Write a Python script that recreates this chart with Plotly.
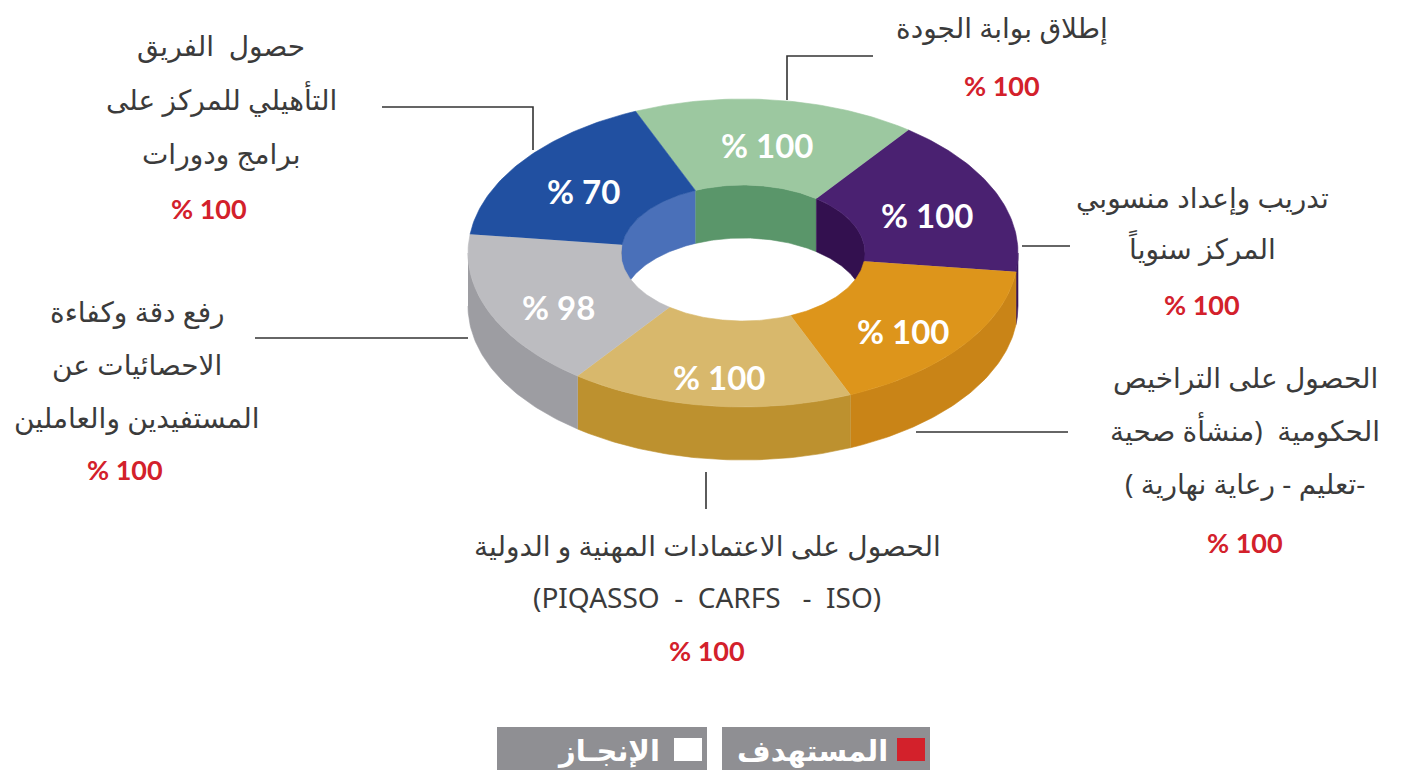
import numpy as np
import plotly.graph_objects as go

# ---- data -----------------------------------------------------------------
# goals, listed clockwise from the top of the ring
goal_titles = [
    ["إطلاق بوابة الجودة"],
    ["تدريب وإعداد منسوبي", "المركز سنوياً"],
    ["الحصول على التراخيص", "الحكومية  (منشأة صحية", "-تعليم - رعاية نهارية )"],
    ["الحصول على الاعتمادات المهنية و الدولية", "(PIQASSO  -  CARFS   -  ISO)"],
    ["رفع دقة وكفاءة", "الاحصائيات عن", "المستفيدين والعاملين"],
    ["حصول  الفريق", "التأهيلي للمركز على", "برامج ودورات"],
]
target_pct = [100, 100, 100, 100, 100, 100]
achieved_pct = [100, 100, 100, 100, 98, 70]
legend_names = ["المستهدف", "الإنجـاز"]

# ---- style ----------------------------------------------------------------
top_colors = ["#9cc8a0", "#4a2171", "#dd951b", "#d8b86c", "#bcbcc0", "#2150a1"]
outer_wall_colors = ["#7fae84", "#38165b", "#c98417", "#bd912f", "#9d9da2", "#1b3f85"]
inner_wall_colors = ["#5a966a", "#33104f", "#b7780f", "#b08a3c", "#8f8f94", "#4a70b9"]
TEXT = "#3b3b3b"
RED = "#d3212b"
ARABIC_FONT = "Noto Sans, DejaVu Sans, sans-serif"
NUM_FONT = "Lato, Open Sans, sans-serif"

W, H = 1403, 771
CX, CY = 743, 253          # centre of the ring's top face
RX_OUT, RY_OUT = 275, 154  # outer ellipse
RX_IN, RY_IN = 122, 68     # hole
DEPTH = 53                 # thickness of the ring
START = 113                # angle of the first slice edge (degrees)

RLM = "\u200f"


def arc(rx, ry, a0, a1, dy=0.0, n=60):
    t = np.radians(np.linspace(a0, a1, n))
    return CX + rx * np.cos(t), CY - ry * np.sin(t) + dy


def clip(lo, hi, vlo, vhi):
    """Parts of [lo, hi] that fall inside [vlo, vhi] (mod 360)."""
    out = []
    for k in (-2, -1, 0, 1):
        a, b = max(lo, vlo + 360 * k), min(hi, vhi + 360 * k)
        if b - a > 1e-6:
            out.append((a, b))
    return out


def poly_trace(xs, ys, color):
    return go.Scatter(
        x=xs, y=ys, mode="lines", fill="toself", fillcolor=color,
        line=dict(color=color, width=0.6), hoverinfo="skip", showlegend=False,
    )


n = len(achieved_pct)
span = 360.0 / n
edges = [(START - (i + 1) * span, START - i * span) for i in range(n)]

fig = go.Figure()

# outer side wall (front half of the ring)
for i, (lo, hi) in enumerate(edges):
    for a, b in clip(lo, hi, -180, 0):
        x1, y1 = arc(RX_OUT, RY_OUT, a, b)
        x2, y2 = arc(RX_OUT, RY_OUT, b, a, dy=DEPTH)
        fig.add_trace(poly_trace(np.r_[x1, x2], np.r_[y1, y2], outer_wall_colors[i]))

# inner wall seen through the hole (back half)
for i, (lo, hi) in enumerate(edges):
    for a, b in clip(lo, hi, 0, 180):
        x1, y1 = arc(RX_IN, RY_IN, a, b)
        x2, y2 = arc(RX_IN, RY_IN, b, a, dy=DEPTH)
        fig.add_trace(poly_trace(np.r_[x1, x2], np.r_[y1, y2], inner_wall_colors[i]))

# top face of every slice
for i, (lo, hi) in enumerate(edges):
    x1, y1 = arc(RX_OUT, RY_OUT, hi, lo)
    x2, y2 = arc(RX_IN, RY_IN, lo, hi)
    fig.add_trace(poly_trace(np.r_[x1, x2], np.r_[y1, y2], top_colors[i]))

annotations = []

# achieved value on each slice
for i, (lo, hi) in enumerate(edges):
    mid = np.radians((lo + hi) / 2)
    annotations.append(dict(
        x=CX + 200 * np.cos(mid), y=CY + 8 - 117 * np.sin(mid),
        text=f"<b>% {achieved_pct[i]}</b>", showarrow=False,
        font=dict(family=NUM_FONT, size=33, color="white"),
        xanchor="center", yanchor="middle",
    ))

# title blocks: (centre x, first line y, line step, target y)
blocks = [
    (1002, 27, 52, 85),
    (1202, 197, 51, 304),
    (1245, 377, 53, 542),
    (707, 545, 52, 650),
    (137, 311, 53, 469),
    (221, 45, 54, 208),
]
for i, (bx, by, step, ry) in enumerate(blocks):
    for j, line in enumerate(goal_titles[i]):
        annotations.append(dict(
            x=bx, y=by + j * step, text=RLM + line + RLM, showarrow=False,
            font=dict(family=ARABIC_FONT, size=28, color=TEXT),
            xanchor="center", yanchor="middle",
        ))
    annotations.append(dict(
        x=bx - 12 if i in (4, 5) else bx, y=ry,
        text=f"<b>% {target_pct[i]}</b>", showarrow=False,
        font=dict(family=NUM_FONT, size=27, color=RED),
        xanchor="center", yanchor="middle",
    ))

# leader lines from the ring to the titles
leaders = [
    "M787,100 L787,56 L873,56",
    "M1022,246 L1070,246",
    "M916,432 L1068,432",
    "M706,472 L706,509",
    "M255,338 L468,338",
    "M382,107 L533,107 L533,150",
]
shapes = [dict(type="path", path=p, xref="x", yref="y",
               line=dict(color="#333333", width=1.6), layer="below")
          for p in leaders]

# legend boxes
LEG_GREY = "#8f8f93"
legend_boxes = [(722, 930, RED), (497, 707, "white")]
for k, (x0, x1, sw) in enumerate(legend_boxes):
    shapes.append(dict(type="rect", xref="x", yref="y", x0=x0, x1=x1, y0=727, y1=770,
                       fillcolor=LEG_GREY, line=dict(width=0), layer="below"))
    shapes.append(dict(type="rect", xref="x", yref="y", x0=x1 - 33, x1=x1 - 5,
                       y0=738, y1=761, fillcolor=sw, line=dict(width=0)))
    annotations.append(dict(
        x=(x0 + x1 - 38) / 2 + (5 if k == 0 else 25), y=749,
        text="<b>" + RLM + legend_names[k] + RLM + "</b>", showarrow=False,
        font=dict(family=ARABIC_FONT, size=29, color="white"),
        xanchor="center", yanchor="middle",
    ))

fig.update_layout(
    width=W, height=H, autosize=False,
    margin=dict(l=0, r=0, t=0, b=0),
    paper_bgcolor="white", plot_bgcolor="white",
    xaxis=dict(range=[0, W], visible=False, fixedrange=True),
    yaxis=dict(range=[H, 0], visible=False, fixedrange=True),
    annotations=annotations, shapes=shapes, showlegend=False,
)

fig.write_html("out.html")
